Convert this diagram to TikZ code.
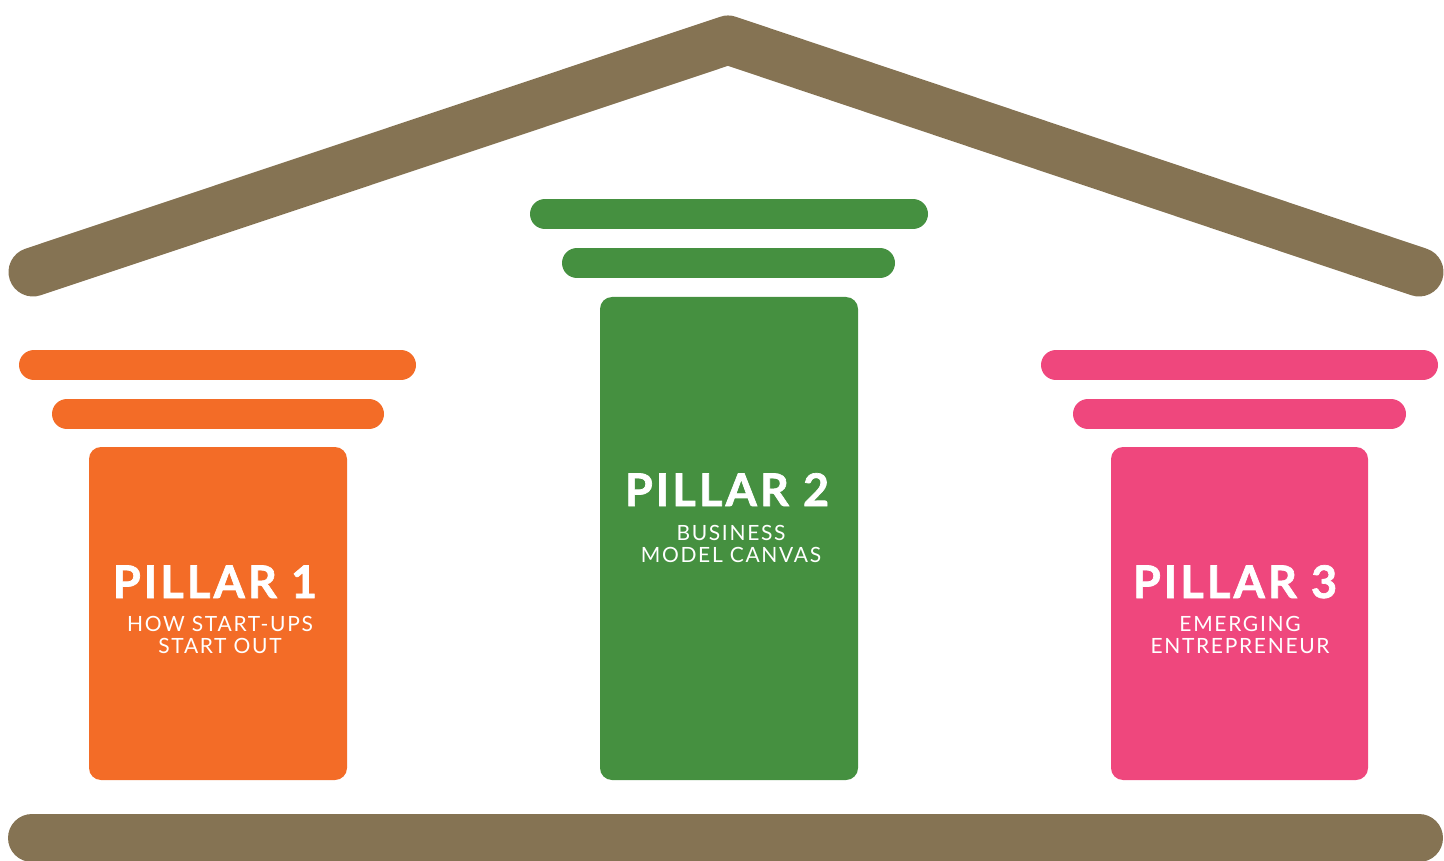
\documentclass[tikz,border=0pt]{standalone}
\usepackage{fontspec}
\setmainfont{Lato}
\newfontfamily\titlefont{Lato}[LetterSpace=7,BoldFeatures={FakeBold=1.5}]
\newfontfamily\subfont{Lato}[LetterSpace=8]
\definecolor{roofbrown}{RGB}{133,115,83}
\definecolor{porange}{RGB}{243,108,39}
\definecolor{pgreen}{RGB}{69,144,64}
\definecolor{ppink}{RGB}{239,71,125}
\tikzset{
  roofline/.style={draw=roofbrown,line width=49pt,line cap=round,line join=round},
  baseline bar/.style={draw=roofbrown,line width=48pt,line cap=round},
  capbar/.style={line width=30pt,line cap=round},
  shaft/.style={rectangle,rounded corners=12pt,inner sep=0pt,draw=none},
  titletext/.style={text=white,anchor=base,inner sep=0pt,font=\titlefont\bfseries\fontsize{45}{45}\selectfont},
  subtext/.style={text=white,anchor=base,inner sep=0pt,font=\subfont\fontsize{21}{21}\selectfont},
}
\begin{document}
\begin{tikzpicture}[x=1pt,y=-1pt]
\useasboundingbox (0,0) rectangle (1444,861);
% roof
\coordinate (roofL) at (33,272);
\coordinate (apex) at (728,40);
\coordinate (roofR) at (1419,272);
\draw[roofline] (roofL) -- (apex) -- (roofR);
% base
\coordinate (baseL) at (32,838);
\coordinate (baseR) at (1419,838);
\draw[baseline bar] (baseL) -- (baseR);
% pillar 1
\coordinate (o1a) at (34,365); \coordinate (o1b) at (401,365);
\coordinate (o2a) at (67,414); \coordinate (o2b) at (369,414);
\draw[capbar,porange] (o1a) -- (o1b);
\draw[capbar,porange] (o2a) -- (o2b);
\node[shaft,fill=porange,minimum width=258pt,minimum height=333pt] (shaft1) at (218,613.5) {};
\node[titletext] (t1) at (215,598) {PILLAR 1};
\node[subtext] (s1a) at (220,631) {HOW START-UPS};
\node[subtext] (s1b) at (220,653) {START OUT};
% pillar 2
\coordinate (g1a) at (545,214); \coordinate (g1b) at (913,214);
\coordinate (g2a) at (577,263); \coordinate (g2b) at (880,263);
\draw[capbar,pgreen] (g1a) -- (g1b);
\draw[capbar,pgreen] (g2a) -- (g2b);
\node[shaft,fill=pgreen,minimum width=258pt,minimum height=483pt] (shaft2) at (729,538.5) {};
\node[titletext] (t2) at (727,506) {PILLAR 2};
\node[subtext] (s2a) at (731,540) {BUSINESS};
\node[subtext] (s2b) at (731,562) {MODEL CANVAS};
% pillar 3
\coordinate (p1a) at (1056,365); \coordinate (p1b) at (1423,365);
\coordinate (p2a) at (1088,414); \coordinate (p2b) at (1391,414);
\draw[capbar,ppink] (p1a) -- (p1b);
\draw[capbar,ppink] (p2a) -- (p2b);
\node[shaft,fill=ppink,minimum width=257pt,minimum height=333pt] (shaft3) at (1239.5,613.5) {};
\node[titletext] (t3) at (1235,598) {PILLAR 3};
\node[subtext] (s3a) at (1240,631) {EMERGING};
\node[subtext] (s3b) at (1240,653) {ENTREPRENEUR};
\end{tikzpicture}
\end{document}
